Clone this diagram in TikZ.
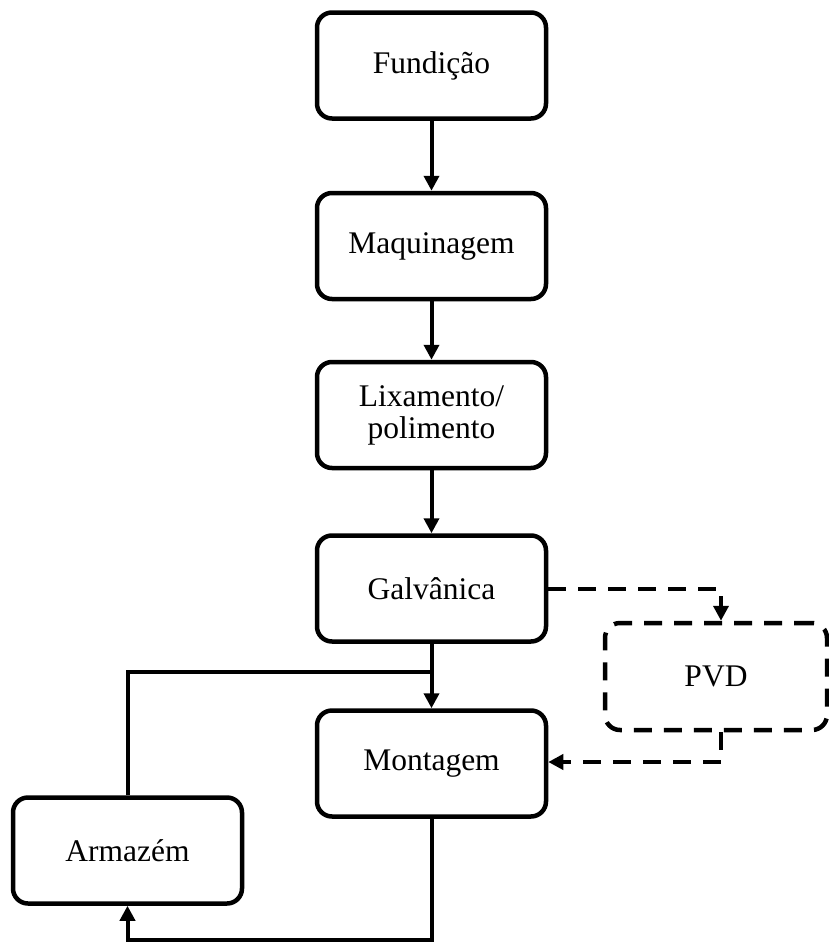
\documentclass[tikz,border=0pt]{standalone}
\usepackage{fontspec}
\setmainfont{Liberation Serif}
\usetikzlibrary{arrows.meta}
\begin{document}
\begin{tikzpicture}[x=1pt,y=-1pt,
  proc/.style={draw, line width=4.5pt, rounded corners=15pt, align=center,
    minimum width=229pt, minimum height=106pt, inner sep=0pt,
    font=\fontsize{31.5}{32}\selectfont},
  flow/.style={line width=4pt, -{Triangle[length=15pt,width=15pt]}},
  link/.style={line width=4pt},
  optflow/.style={flow, dash pattern=on 18pt off 12pt},
  optbox/.style={proc, dash pattern=on 18pt off 12pt}]
\useasboundingbox (0,0) rectangle (829,943);
\node[proc] (fund) at (431.5,65.5) {Fundição};
\node[proc] (maq) at (431.5,246) {Maquinagem};
\node[proc] (lix) at (431.5,415) {Lixamento/\\polimento};
\node[proc] (galv) at (431.5,588.5) {Galvânica};
\node[proc] (mont) at (431.5,763.5) {Montagem};
\node[proc] (arm) at (127.5,850.5) {Armazém};
\node[optbox, minimum width=222pt, minimum height=107pt] (pvd) at (716,676.5) {PVD};
\coordinate (join) at (431.5,672);
\coordinate (loopA) at (127.5,672);
\coordinate (loopB) at (431.5,940);
\coordinate (loopC) at (127.5,940);
\coordinate (pvdin) at (721,589);
\coordinate (pvdout) at (721,762);
\draw[flow] (fund) -- (maq);
\draw[flow] (maq) -- (lix);
\draw[flow] (lix) -- (galv);
\draw[flow] (galv) -- (mont);
\draw[link] (arm.north -| loopA) -- (loopA) -- (join);
\draw[flow] (mont.south) -- (loopB) -- (loopC) -- (arm.south -| loopC);
\draw[optflow] (galv.east |- pvdin) -- (pvdin) -- (pvd.north -| pvdin);
\draw[optflow] (pvd.south -| pvdout) -- (pvdout) -- (mont.east |- pvdout);
\end{tikzpicture}
\end{document}
